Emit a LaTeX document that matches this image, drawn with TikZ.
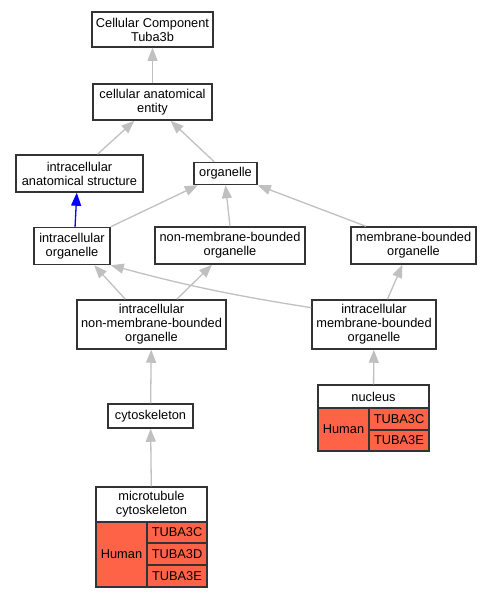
\documentclass[tikz,border=0pt]{standalone}
\usepackage{fontspec}
\setmainfont{Liberation Sans}
\usetikzlibrary{arrows.meta}
\definecolor{tomato}{HTML}{FF6347}
\definecolor{edgegray}{HTML}{C0C0C0}

\begin{document}
\begin{tikzpicture}[x=1pt, y=-1pt,
  every node/.style={font=\fontsize{12.8}{14}\selectfont},
  box/.style={draw=black!80, line width=1.5pt, rectangle, align=center, inner sep=0pt},
  hit/.style={box, fill=tomato},
  edge/.style={draw=edgegray, line width=1.3pt, -{Triangle[length=13pt, width=10pt]}}]
  \useasboundingbox (0,0) rectangle (491,597);
  \node[box, minimum width=121pt, minimum height=35pt] (cc) at (152.5, 29.5) {Cellular Component\\Tuba3b};
  \node[box, minimum width=119pt, minimum height=36pt] (cae) at (152.5, 102) {cellular anatomical\\entity};
  \node[box, minimum width=127pt, minimum height=37pt] (ias) at (79.5, 173.5) {intracellular\\anatomical structure};
  \node[box, minimum width=63pt, minimum height=22pt] (org) at (225.5, 173.5) {organelle};
  \node[box, minimum width=76pt, minimum height=37pt] (io) at (72, 246) {intracellular\\organelle};
  \node[box, minimum width=150pt, minimum height=37pt] (nmbo) at (230, 245.5) {non-membrane-bounded\\organelle};
  \node[box, minimum width=125pt, minimum height=37pt] (mbo) at (413.5, 245.5) {membrane-bounded\\organelle};
  \node[box, minimum width=149pt, minimum height=49pt] (inmbo) at (151.5, 324.5) {intracellular\\non-membrane-bounded\\organelle};
  \node[box, minimum width=124pt, minimum height=49pt] (imbo) at (374, 324.5) {intracellular\\membrane-bounded\\organelle};
  \node[box, minimum width=85pt, minimum height=24pt] (cyto) at (150.5, 416) {cytoskeleton};
  % nucleus table
  \node[box, minimum width=111pt, minimum height=23pt] (nuc) at (373.5, 396.5) {nucleus};
  \node[hit, minimum width=51pt, minimum height=43pt] (nuch) at (343.5, 429.5) {Human};
  \node[hit, minimum width=60pt, minimum height=22pt] (nucc) at (399, 419) {TUBA3C};
  \node[hit, minimum width=60pt, minimum height=21pt] (nuce) at (399, 440.5) {TUBA3E};
  % microtubule cytoskeleton table
  \node[box, minimum width=111pt, minimum height=35pt] (mtc) at (151.5, 504.5) {microtubule\\cytoskeleton};
  \node[hit, minimum width=51pt, minimum height=65pt] (mtch) at (121.5, 554.5) {Human};
  \node[hit, minimum width=60pt, minimum height=21pt] (mtcc) at (177, 532.5) {TUBA3C};
  \node[hit, minimum width=60pt, minimum height=22pt] (mtcd) at (177, 554) {TUBA3D};
  \node[hit, minimum width=60pt, minimum height=22pt] (mtce) at (177, 576) {TUBA3E};
  \draw[edge] (cae) -- (cc);
  \draw[edge] (ias.47) -- (cae.226);
  \draw[edge] (org.134) -- (cae.314);
  \draw[edge, draw=blue] (io.81) -- (ias.262);
  \draw[edge] (io.north east) -- (org.203);
  \draw[edge] (nmbo.north) -- (org.south);
  \draw[edge] (mbo.158) -- (org.south east);
  \draw[edge] (inmbo.136) -- (io.319);
  \draw[edge] (inmbo.45) -- (nmbo.227);
  \draw[edge] (imbo.165) to[bend left=3] (io.south east);
  \draw[edge] (imbo.62) -- (mbo.240);
  \draw[edge] (cyto) -- (inmbo);
  \draw[edge] (nuc) -- (imbo);
  \draw[edge] (mtc) -- (cyto);
\end{tikzpicture}
\end{document}
